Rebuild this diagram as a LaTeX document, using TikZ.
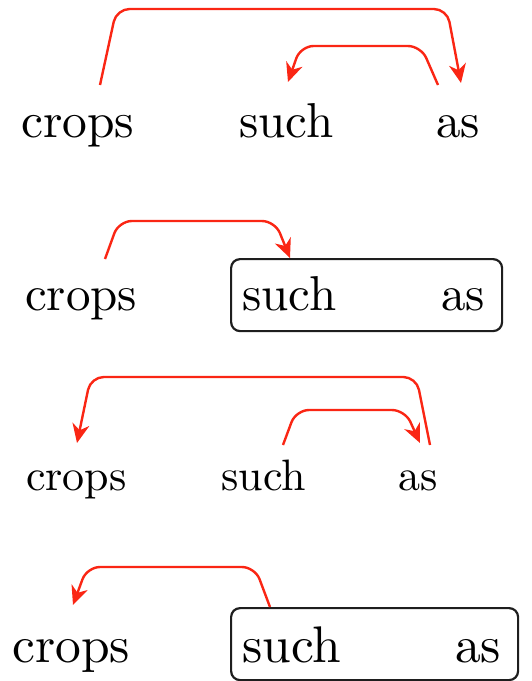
\documentclass[tikz,border=0pt]{standalone}
\usetikzlibrary{arrows.meta}
\definecolor{arrred}{RGB}{250,38,20}
\definecolor{boxgray}{RGB}{30,30,30}
\tikzset{
  word/.style={inner sep=0pt, anchor=base west},
  dep/.style={draw=arrred, line width=2.4pt, rounded corners=13pt,
    -{Stealth[length=19pt,width=17pt,inset=6pt]}},
  chunk/.style={draw=boxgray, line width=2.2pt, rounded corners=9pt, inner sep=0pt, anchor=north west}
}
\begin{document}
\begin{tikzpicture}[x=1pt,y=-1pt]
\useasboundingbox (0,0) rectangle (531,681);
% panel 1
\node[word] (crops1) at (21,137) {\scalebox{4.95}{crops}};
\node[word] (such1) at (239,137) {\scalebox{4.9}{such}};
\node[word] (as1) at (436,137) {\scalebox{4.9}{as}};
\coordinate (p1a) at (100,85);
\coordinate (p1b) at (461,83);
\coordinate (p1c) at (438,85);
\coordinate (p1d) at (288,82);
\draw[dep] (p1a) -- (116.5,9) -- (447,9) -- (p1b);
\draw[dep] (p1c) -- (421,46) -- (300.6,46) -- (p1d);
% panel 2
\node[chunk, minimum width=271pt, minimum height=72pt] (box2) at (230,258) {};
\node[word] (crops2) at (25,310) {\scalebox{4.9}{crops}};
\node[word] (such2) at (242,310) {\scalebox{4.9}{such}};
\node[word] (as2) at (441,310) {\scalebox{4.9}{as}};
\coordinate (p2a) at (105,259);
\coordinate (p2b) at (290,258);
\draw[dep] (p2a) -- (118.8,221) -- (275,221) -- (p2b);
% panel 3
\node[word] (crops3) at (26,490) {\scalebox{4.4}{crops}};
\node[word] (such3) at (221,490) {\scalebox{4.4}{such}};
\node[word] (as3) at (398,490) {\scalebox{4.4}{as}};
\coordinate (p3a) at (430,445);
\coordinate (p3b) at (77,443);
\coordinate (p3c) at (283,445);
\coordinate (p3d) at (420,443);
\draw[dep] (p3a) -- (416.4,377) -- (90.7,377) -- (p3b);
\draw[dep] (p3c) -- (296,410) -- (405,410) -- (p3d);
% panel 4
\node[chunk, minimum width=287pt, minimum height=72pt] (box4) at (230,607) {};
\node[word] (crops4) at (12,662) {\scalebox{5.15}{crops}};
\node[word] (such4) at (242,662) {\scalebox{5.15}{such}};
\node[word] (as4) at (455,662) {\scalebox{5.15}{as}};
\coordinate (p4a) at (270,607);
\coordinate (p4b) at (73,605);
\draw[dep] (p4a) -- (255,567) -- (87,567) -- (p4b);
\end{tikzpicture}
\end{document}
